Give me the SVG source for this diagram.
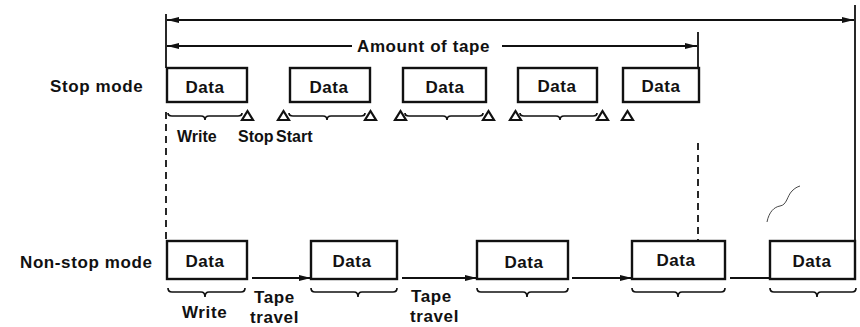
<svg xmlns="http://www.w3.org/2000/svg" width="860" height="327" viewBox="0 0 860 327">
<style>
text{font-family:"Liberation Sans",Arial,sans-serif;font-weight:bold;font-size:17px;letter-spacing:0.6px;fill:#111}
.sm{font-size:16px;letter-spacing:0}
.box{fill:#fff;stroke:#111;stroke-width:2.4}
.ln{fill:none;stroke:#111;stroke-width:1.8}
.dash{fill:none;stroke:#111;stroke-width:1.8;stroke-dasharray:7,5}
.br{fill:none;stroke:#111;stroke-width:1.7}
.tri{fill:#fff;stroke:#111;stroke-width:2.2;stroke-linejoin:miter}
.c{text-anchor:middle}
</style>
<defs>
<marker id="ah" viewBox="0 0 12 6" refX="12" refY="3" markerWidth="12" markerHeight="6" markerUnits="userSpaceOnUse" orient="auto-start-reverse">
<path d="M0,0 L12,3 L0,6 z" fill="#111"/>
</marker>
</defs>
<g id="connectors">
<line class="ln" x1="166" y1="14" x2="166" y2="68"/>
<line class="dash" x1="166" y1="112" x2="166" y2="241"/>
<line class="ln" x1="855" y1="5" x2="855" y2="280"/>
<line class="ln" x1="698" y1="32" x2="698" y2="68"/>
<line class="dash" x1="698" y1="143" x2="698" y2="241"/>
<line class="ln" x1="167" y1="20" x2="854" y2="20" marker-start="url(#ah)" marker-end="url(#ah)"/>
<line class="ln" x1="167" y1="46" x2="352" y2="46" marker-start="url(#ah)"/>
<line class="ln" x1="502" y1="46" x2="697" y2="46" marker-end="url(#ah)"/>
<line class="ln" x1="252" y1="278" x2="311" y2="278" marker-end="url(#ah)"/>
<line class="ln" x1="402" y1="278" x2="477" y2="278" marker-end="url(#ah)"/>
<line class="ln" x1="572" y1="278" x2="632" y2="278" marker-end="url(#ah)"/>
<line class="ln" x1="730" y1="278" x2="770" y2="278"/>
<path d="M767,222 C769,212 774,207 780,206 C787,205 787,196 792,191 C795,188 797,187 800,186" fill="none" stroke="#333" stroke-width="0.9"/>
</g>
<g id="labels">
<text x="50" y="92">Stop mode</text>
<text x="20" y="268">Non-stop mode</text>
<text x="357" y="52">Amount of tape</text>
<text x="177" y="142" class="sm">Write</text>
<text x="238" y="142" class="sm">Stop</text>
<text x="276" y="142" class="sm">Start</text>
<text x="182" y="318">Write</text>
<text x="254" y="303">Tape</text>
<text x="250" y="323">travel</text>
<text x="411" y="302">Tape</text>
<text x="410" y="322">travel</text>
</g>
<g id="stop1"><rect class="box" x="167" y="68" width="80" height="34"/><text x="205" y="93" class="c">Data</text></g>
<g id="stop2"><rect class="box" x="290" y="68" width="80" height="34"/><text x="329" y="93" class="c">Data</text></g>
<g id="stop3"><rect class="box" x="403" y="68" width="83" height="34"/><text x="445" y="93" class="c">Data</text></g>
<g id="stop4"><rect class="box" x="518" y="68" width="79" height="34"/><text x="557" y="92" class="c">Data</text></g>
<g id="stop5"><rect class="box" x="623" y="68" width="76" height="34"/><text x="661" y="92" class="c">Data</text></g>
<g id="stop-marks">
<path class="br" d="M168,113 q0,3 4,3 H201 q4,0 4,4 q0,-4 4,-4 H238 q4,0 4,-3"/>
<path class="br" d="M289,113 q0,3 4,3 H323 q4,0 4,4 q0,-4 4,-4 H361 q4,0 4,-3"/>
<path class="br" d="M405,113 q0,3 4,3 H443 q4,0 4,4 q0,-4 4,-4 H479 q4,0 4,-3"/>
<path class="br" d="M520,113 q0,3 4,3 H556 q4,0 4,4 q0,-4 4,-4 H593 q4,0 4,-3"/>
<path class="tri" d="M242,120 H253 L247.5,111 Z"/>
<path class="tri" d="M278,120 H289 L283.5,111 Z"/>
<path class="tri" d="M365,120 H376 L370.5,111 Z"/>
<path class="tri" d="M395,120 H406 L400.5,111 Z"/>
<path class="tri" d="M483,120 H494 L488.5,111 Z"/>
<path class="tri" d="M510,120 H521 L515.5,111 Z"/>
<path class="tri" d="M597,120 H608 L602.5,111 Z"/>
<path class="tri" d="M622,120 H633 L627.5,111 Z"/>
</g>
<g id="ns1"><rect class="box" x="167" y="241" width="80" height="38"/><text x="205" y="267" class="c">Data</text></g>
<g id="ns2"><rect class="box" x="311" y="241" width="86" height="38"/><text x="352" y="267" class="c">Data</text></g>
<g id="ns3"><rect class="box" x="477" y="241" width="91" height="38"/><text x="524" y="268" class="c">Data</text></g>
<g id="ns4"><rect class="box" x="632" y="241" width="93" height="38"/><text x="676" y="266" class="c">Data</text></g>
<g id="ns5"><rect class="box" x="770" y="241" width="85" height="38"/><text x="812" y="267" class="c">Data</text></g>
<g id="ns-braces">
<path class="br" d="M168,288 q0,4 4,4 H201 q4,0 4,5 q0,-5 4,-5 H241 q4,0 4,-4"/>
<path class="br" d="M311,288 q0,4 4,4 H354 q4,0 4,5 q0,-5 4,-5 H393 q4,0 4,-4"/>
<path class="br" d="M477,288 q0,4 4,4 H523 q4,0 4,5 q0,-5 4,-5 H564 q4,0 4,-4"/>
<path class="br" d="M632,288 q0,4 4,4 H674 q4,0 4,5 q0,-5 4,-5 H721 q4,0 4,-4"/>
<path class="br" d="M770,288 q0,4 4,4 H813 q4,0 4,5 q0,-5 4,-5 H852 q4,0 4,-4"/>
</g>
</svg>
